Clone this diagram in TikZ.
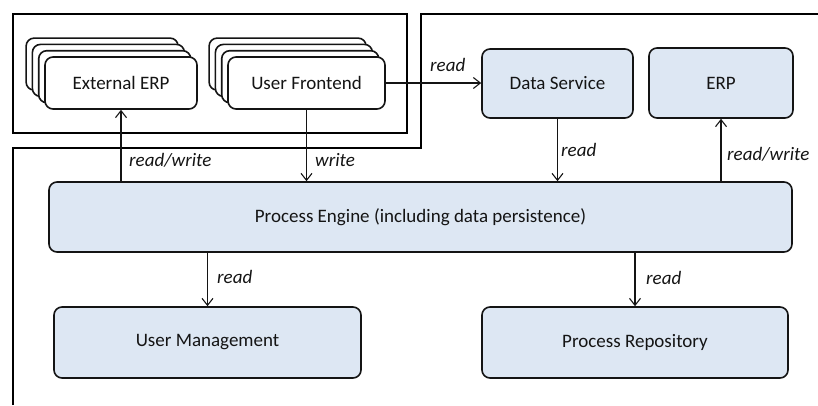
\documentclass[tikz,border=0pt]{standalone}
\usepackage{fontspec}
\setmainfont{Carlito}
\usetikzlibrary{arrows.meta}
\definecolor{boxfill}{HTML}{DDE7F3}
\definecolor{ink}{HTML}{141414}
\tikzset{
  comp/.style={draw=ink, line width=1.6pt, rounded corners=8pt, fill=boxfill,
    text=ink, font=\fontsize{19}{22}\selectfont, inner sep=0pt},
  stackbox/.style={draw=ink, line width=1.6pt, rounded corners=8pt, fill=white,
    text=ink, font=\fontsize{19}{22}\selectfont, inner sep=0pt},
  conn/.style={draw=ink, line width=1.1pt, -{Straight Barb[length=7pt,width=11pt,line width=1.1pt]}},
  lbl/.style={text=ink, font=\fontsize{19}{22}\selectfont\itshape, inner sep=0pt, anchor=west},
  frame/.style={draw=black, line width=2.2pt}
}
\begin{document}
\begin{tikzpicture}[x=1pt,y=-1pt]
\useasboundingbox (0,0) rectangle (818,405);

% client-side frame and server-side frame
\draw[frame] (13,14) rectangle (407,133);
\draw[frame] (13,405) -- (13,148) -- (421,148) -- (421,14) -- (818,14);

% stacked external ERP instances
\foreach \k/\d in {3/18.9, 2/12.6, 1/6.3}{
  \node[stackbox, minimum width=152pt, minimum height=52pt] (ext\k) at (121-\d,83-\d) {};
}
\node[stackbox, minimum width=152pt, minimum height=52pt] (ext) at (121,83) {External ERP};

% stacked user frontends
\foreach \k/\d in {3/18.9, 2/12.6, 1/6.3}{
  \node[stackbox, minimum width=157pt, minimum height=52pt] (uf\k) at (306.5-\d,83-\d) {};
}
\node[stackbox, minimum width=157pt, minimum height=52pt] (uf) at (306.5,83) {User Frontend};

% server components
\node[comp, minimum width=151pt, minimum height=69pt] (ds) at (557.5,83.5) {Data Service};
\node[comp, minimum width=144pt, minimum height=70pt] (erp) at (721,83) {ERP};
\node[comp, minimum width=743pt, minimum height=70pt] (pe) at (420.5,217) {Process Engine (including data persistence)};
\node[comp, minimum width=307pt, minimum height=71pt] (um) at (207.5,342.5) {User Management};
\node[comp, minimum width=306pt, minimum height=71pt] (pr) at (635,342.5) {Process Repository};

% connectors
\draw[conn] (pe.north -| ext.south) -- (ext.south);
\draw[conn] (uf.south) -- (uf.south |- pe.north);
\draw[conn] (uf.east) -- (ds.west |- uf.east);
\draw[conn] (ds.south) -- (ds.south |- pe.north);
\draw[conn] (pe.north -| erp.south) -- (erp.south);
\draw[conn] (pe.south -| um.north) -- (um.north);
\draw[conn] (pe.south -| pr.north) -- (pr.north);

% connector labels
\node[lbl] (l1) at (129,160) {read/write};
\node[lbl] (l2) at (315,160) {write};
\node[lbl] (l3) at (430,65) {read};
\node[lbl] (l4) at (561,150) {read};
\node[lbl] (l5) at (727,154) {read/write};
\node[lbl] (l6) at (217,277) {read};
\node[lbl] (l7) at (646,278) {read};
\end{tikzpicture}
\end{document}
